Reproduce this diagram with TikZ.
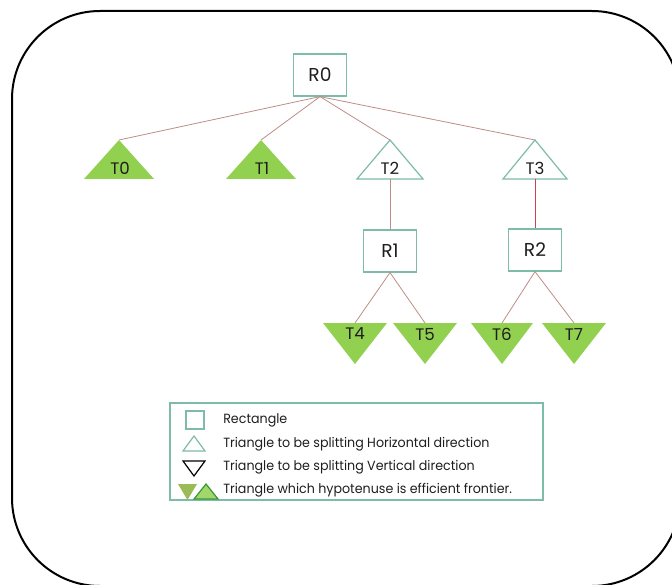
\documentclass[tikz,border=0pt]{standalone}
\usepackage{fontspec}
\setmainfont{Poppins}
\newfontfamily\legfont[FakeStretch=0.95]{Poppins}
\usetikzlibrary{positioning, calc}

\definecolor{leafgreen}{HTML}{92D050}
\definecolor{boxteal}{HTML}{7DBBAA}
\definecolor{edgebrown}{HTML}{BC8E86}
\definecolor{edgered}{HTML}{D0404E}
\definecolor{legolive}{HTML}{9BBB59}
\definecolor{frontgreen}{HTML}{3C9A3C}
\definecolor{inktext}{HTML}{1E1E1E}

\begin{document}
\begin{tikzpicture}[
        x=0.75pt, y=-0.75pt,
        rbox/.style={rectangle, draw=boxteal, line width=0.9pt, fill=white, minimum width=39.75pt, minimum height=31.5pt, text=inktext, font=\fontsize{14}{16}\selectfont},
        tlabel/.style={inner sep=0pt, text=inktext, font=\fontsize{12.5}{14}\selectfont},
        leaf/.style={fill=leafgreen},
        split/.style={draw=boxteal, line width=0.9pt, fill=white},
        edge/.style={draw=edgebrown, line width=0.6pt},
        legtext/.style={anchor=west, inner sep=0pt, text=inktext, font=\legfont\fontsize{10}{12}\selectfont}
    ]
        \useasboundingbox (0,0) rectangle (672,585);
        % Frame
        \draw[line width=1.5pt, rounded corners=66pt] (12,11) rectangle (680,586);

        % Rectangles
        \node[rbox] (R0) at (320,75) {R0};
        \node[rbox] (R1) at (390,251) {R1};
        \node[rbox] (R2) at (535,250) {R2};

        % Apex and base points of the triangles
        \coordinate (a0) at (119,140);
        \coordinate (a1) at (261,140);
        \coordinate (a2) at (390,140);
        \coordinate (a3) at (535,140);
        \coordinate (b2) at (390,179);
        \coordinate (b3) at (535,179);
        \coordinate (a4) at (355,323);
        \coordinate (a5) at (425,323);
        \coordinate (a6) at (502,323);
        \coordinate (a7) at (574,323);

        % First level
        \draw[edge] (R0.south) -- (a0);
        \draw[edge] (R0.south) -- (a1);
        \draw[edge] (R0.south) -- (a2);
        \draw[edge] (R0.south) -- (a3);

        \fill[leaf] (a0) -- ++(-35,39) -- ++(70,0) -- cycle;
        \fill[leaf] (a1) -- ++(-35,39) -- ++(70,0) -- cycle;
        \draw[split] (a2) -- ++(-33,39) -- ++(66,0) -- cycle;
        \draw[split] (a3) -- ++(-32,39) -- ++(64,0) -- cycle;

        \node[tlabel] (T0) at (120,168) {T0};
        \node[tlabel] (T1) at (262,168) {T1};
        \node[tlabel] (T2) at (390,168) {T2};
        \node[tlabel] (T3) at (535,168) {T3};

        % Second level
        \draw[edge] (b2) -- (R1.north);
        \draw[edge, draw=edgered] (b3) -- (R2.north);
        \draw[edge] (R1.south) -- (a4);
        \draw[edge] (R1.south) -- (a5);
        \draw[edge] (R2.south) -- (a6);
        \draw[edge] (R2.south) -- (a7);

        \fill[leaf] (a4) -- ++(-32,0) -- ++(32,41) -- ++(32,-41) -- cycle;
        \fill[leaf] (a5) -- ++(-32,0) -- ++(32,41) -- ++(32,-41) -- cycle;
        \fill[leaf] (a6) -- ++(-31,0) -- ++(31,41) -- ++(31,-41) -- cycle;
        \fill[leaf] (a7) -- ++(-32,0) -- ++(32,41) -- ++(32,-41) -- cycle;

        \node[tlabel] (T4) at (355,334) {T4};
        \node[tlabel] (T5) at (425,334) {T5};
        \node[tlabel] (T6) at (502,334) {T6};
        \node[tlabel] (T7) at (574,334) {T7};

        % Legend
        \draw[draw=boxteal, line width=1pt] (170,403) rectangle (543,500);
        \draw[draw=boxteal, line width=0.9pt] (186,411) rectangle (204,429);
        \draw[draw=boxteal, line width=0.9pt] (194,436) -- (183,451) -- (205,451) -- cycle;
        \draw[line width=0.9pt] (183,461) -- (205,461) -- (194,476) -- cycle;
        \fill[legolive] (178,484) -- (197,484) -- (187.5,500) -- cycle;
        \draw[draw=frontgreen, fill=leafgreen!85!white, line width=0.9pt] (206,484) -- (194,499) -- (218,499) -- cycle;

        \node[legtext] (L0) at (223,420) {Rectangle};
        \node[legtext] (L1) at (223,444) {Triangle to be splitting Horizontal direction};
        \node[legtext] (L2) at (223,467) {Triangle to be splitting Vertical direction};
        \node[legtext] (L3) at (223,490) {Triangle which hypotenuse is efficient frontier.};
    \end{tikzpicture}
\end{document}
